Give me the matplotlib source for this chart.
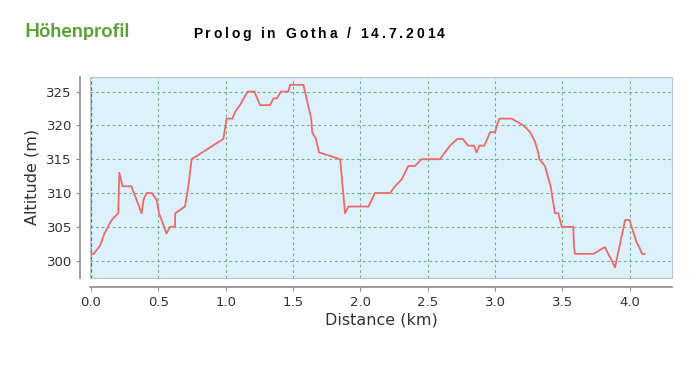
import matplotlib
matplotlib.use("Agg")
import matplotlib.pyplot as plt
from matplotlib.patches import Rectangle

# distance (km) and altitude (m)
distance_km = [
    0.0, 0.02, 0.067, 0.10, 0.153, 0.203, 0.21, 0.235, 0.30, 0.376, 0.39,
    0.413, 0.45, 0.488, 0.505, 0.525, 0.56, 0.587, 0.624, 0.625, 0.698,
    0.723, 0.747, 0.983, 1.007, 1.05, 1.07, 1.106, 1.163, 1.213, 1.255,
    1.33, 1.354, 1.38, 1.41, 1.465, 1.478, 1.577, 1.635, 1.642, 1.67,
    1.693, 1.85, 1.886, 1.912, 2.06, 2.108, 2.22, 2.257, 2.306, 2.356,
    2.405, 2.455, 2.59, 2.665, 2.72, 2.76, 2.80, 2.843, 2.863, 2.883,
    2.92, 2.963, 3.0, 3.012, 3.032, 3.123, 3.21, 3.26, 3.296, 3.32,
    3.328, 3.37, 3.412, 3.444, 3.469, 3.494, 3.58, 3.585, 3.593, 3.73,
    3.815, 3.89, 3.965, 3.998, 4.05, 4.07, 4.09, 4.11,
]
altitude_m = [
    301, 301, 302.2, 304, 306, 307, 313, 311, 311, 307, 309,
    310, 310, 309, 307, 306, 304, 305, 305, 307, 308,
    311, 315, 318, 321, 321, 322, 323, 325, 325, 323,
    323, 324, 324, 325, 325, 326, 326, 321, 319, 318,
    316, 315, 307, 308, 308, 310, 310, 311, 312, 314,
    314, 315, 315, 317, 318, 318, 317, 317, 316, 317,
    317, 319, 319, 320, 321, 321, 320, 319, 317.6, 316,
    315, 314, 311, 307, 307, 305, 305, 302.2, 301, 301,
    302, 299, 306, 306, 302.7, 302, 301, 301,
]

x_ticks = [0.0, 0.5, 1.0, 1.5, 2.0, 2.5, 3.0, 3.5, 4.0]
y_ticks = [300, 305, 310, 315, 320, 325]

title_text = "Prolog in Gotha / 14.7.2014"
header_text = "Höhenprofil"

fig = plt.figure(figsize=(7, 3.65), dpi=100)
ax = fig.add_axes([0.1286, 0.2397, 0.8314, 0.5501])
ax.set_facecolor("#dcf1fb")

ax.plot(distance_km, altitude_m, color="#ee6a68", lw=1.3, zorder=3)

ax.set_xlim(-0.007, 4.313)
ax.set_ylim(297.5, 327.2)
ax.set_xticks(x_ticks)
ax.set_xticklabels([f"{v:.1f}" for v in x_ticks])
ax.set_yticks(y_ticks)
ax.grid(True, color="#7aae8e", linestyle=(0, (2.5, 2.5)), lw=0.8)
# the zero line is drawn darker in the original
ax.axvline(0, color="#55708a", linestyle=(0, (2.5, 2.5)), lw=0.9, zorder=2)

# JFreeChart-like axes: lines sit a bit away from the plot area
for side in ["top", "right"]:
    ax.spines[side].set_visible(False)
for side in ["left", "bottom"]:
    ax.spines[side].set_position(("outward", 7))
    ax.spines[side].set_color("#8c8c8c")
    ax.spines[side].set_linewidth(1.2)
ax.add_patch(Rectangle((0, 0), 1, 1, transform=ax.transAxes, fill=False,
                       edgecolor="#b8c4cc", lw=0.8, zorder=4, clip_on=False))

ax.tick_params(axis="both", length=3, width=0.8, color="#8c8c8c",
               labelsize=9.5, labelcolor="#333333", pad=3)
ax.set_xlabel("Distance (km)", fontsize=11.5, color="#333333", labelpad=3)
ax.set_ylabel("Altitude (m)", fontsize=11.5, color="#333333", labelpad=5)

fig.text(24 / 700, 1 - 32 / 365, header_text, fontsize=14,
         fontweight="bold", family="Lato", color="#57a033", va="center")

# letter-spaced title, placed one glyph at a time
renderer = fig.canvas.get_renderer()
x = 193.0
for ch in title_text:
    if ch == " ":
        x += 7.0
        continue
    t = fig.text(x / 700, 1 - 34 / 365, ch, fontsize=10, fontweight="bold",
                 family="Liberation Sans", color="black", va="center")
    x += t.get_window_extent(renderer).width + 2.8

fig.savefig("out.png", dpi=100)
